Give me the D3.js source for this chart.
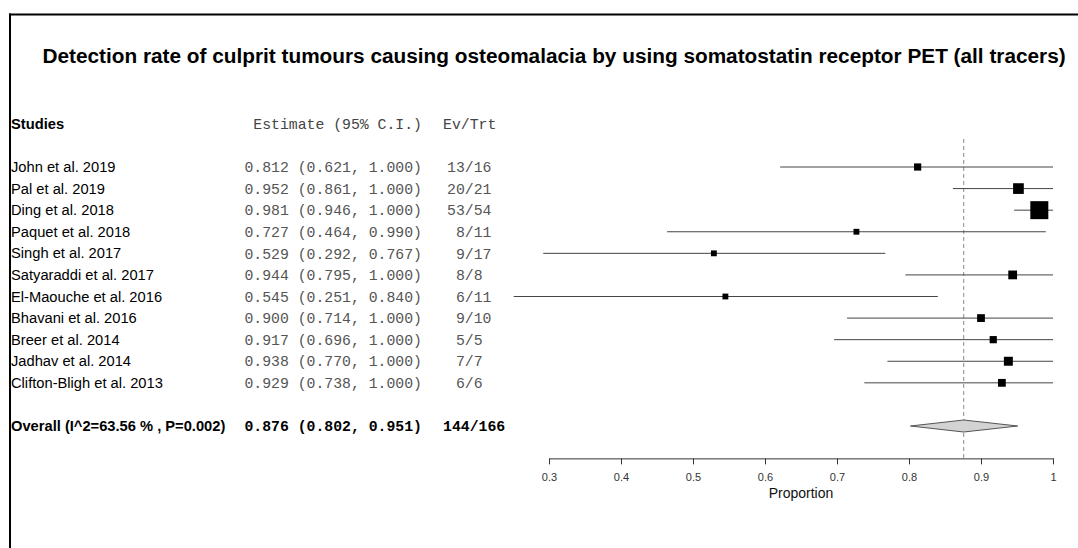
<!DOCTYPE html>
<html lang="en">
<head>
<meta charset="UTF-8">
<title>Forest plot - somatostatin receptor PET</title>
<script src="https://d3js.org/d3.v7.min.js"></script>
<style>
    body { margin: 0; padding: 0; background: #fff; }
    svg { display: block; }
    .sans { font-family: 'Liberation Sans', Arial, sans-serif; }
    .mono { font-family: 'Liberation Mono', 'Courier New', monospace; }
    .axis text { font-family: 'Liberation Sans', Arial, sans-serif; font-size: 11px; fill: #333; }
    .axis path, .axis line { stroke: #333; }
</style>
</head>
<body>
<script>
    const titleText = "Detection rate of culprit tumours causing osteomalacia by using somatostatin receptor PET (all tracers)";

    const studies = ["John et al. 2019", "Pal et al. 2019", "Ding et al. 2018", "Paquet et al. 2018",
        "Singh et al. 2017", "Satyaraddi et al. 2017", "El-Maouche et al. 2016", "Bhavani et al. 2016",
        "Breer et al. 2014", "Jadhav et al. 2014", "Clifton-Bligh et al. 2013"];
    const estimates = [0.812, 0.952, 0.981, 0.727, 0.529, 0.944, 0.545, 0.900, 0.917, 0.938, 0.929];
    const lower     = [0.621, 0.861, 0.946, 0.464, 0.292, 0.795, 0.251, 0.714, 0.696, 0.770, 0.738];
    const upper     = [1.000, 1.000, 1.000, 0.990, 0.767, 1.000, 0.840, 1.000, 1.000, 1.000, 1.000];
    const events    = [13, 20, 53, 8, 9, 8, 6, 9, 5, 7, 6];
    const totals    = [16, 21, 54, 11, 17, 8, 11, 10, 5, 7, 6];
    // relative study weights
    const weights   = [7.4, 11, 18.5, 6, 6, 9, 6, 8, 7.4, 9.2, 8];

    const overallLabel = "Overall (I^2=63.56 % , P=0.002)";
    const overall = { est: 0.876, lo: 0.802, hi: 0.951, ev: 144, n: 166 };

    const xTicks = [0.3, 0.4, 0.5, 0.6, 0.7, 0.8, 0.9, 1];

    const W = 1078, H = 548;
    const svg = d3.select("body").append("svg").attr("width", W).attr("height", H);

    const x = d3.scaleLinear().domain([0.3, 1]).range([549, 1053]);
    // rows: -2 = header, 0..10 = studies, 12 = overall
    const y = d3.scaleLinear().domain([0, 12]).range([167, 426]);
    const box = d3.scaleLinear().domain([0, 18.5]).range([0, 18]);
    const f3 = d3.format(".3f");

    // frame
    svg.append("line").attr("x1", 9).attr("x2", W).attr("y1", 14.5).attr("y2", 14.5)
        .attr("stroke", "#000").attr("stroke-width", 2);
    svg.append("line").attr("x1", 10).attr("x2", 10).attr("y1", 13.5).attr("y2", H)
        .attr("stroke", "#000").attr("stroke-width", 2);

    // title, fitted to its width
    const title = svg.append("text").attr("class", "sans")
        .attr("x", 42.5).attr("y", 63)
        .style("font-size", "20px").style("font-weight", "bold").attr("fill", "#000")
        .text(titleText);
    const tw = title.node().getComputedTextLength();
    title.style("font-size", (20 * 1024 / tw) + "px");

    // headers
    svg.append("text").attr("class", "sans").attr("x", 11).attr("y", y(-2)).attr("dy", "0.35em")
        .style("font-size", "14.7px").style("font-weight", "bold").text("Studies");
    svg.append("text").attr("class", "mono").attr("x", 422).attr("y", y(-2)).attr("dy", "0.35em")
        .attr("text-anchor", "end").style("font-size", "14.8px").attr("fill", "#444")
        .text("Estimate (95% C.I.)");
    svg.append("text").attr("class", "mono").attr("x", 443).attr("y", y(-2)).attr("dy", "0.35em")
        .style("font-size", "14.8px").attr("fill", "#444").text("Ev/Trt");

    // reference line at overall estimate
    svg.append("line")
        .attr("x1", x(overall.est)).attr("x2", x(overall.est))
        .attr("y1", y(-1.3)).attr("y2", y(13.5))
        .attr("stroke", "#888").attr("stroke-dasharray", "4,3").attr("stroke-width", 1);

    const rows = studies.map((s, i) => ({
        name: s, est: estimates[i], lo: lower[i], hi: upper[i],
        ev: events[i], n: totals[i], w: weights[i], i: i
    }));

    const g = svg.append("g");
    g.selectAll(".name").data(rows).enter().append("text")
        .attr("class", "sans name").attr("x", 11).attr("y", d => y(d.i)).attr("dy", "0.35em")
        .style("font-size", "14.7px").attr("fill", "#000").text(d => d.name);

    g.selectAll(".est").data(rows).enter().append("text")
        .attr("class", "mono est").attr("x", 422).attr("y", d => y(d.i)).attr("dy", "0.35em")
        .attr("text-anchor", "end").style("font-size", "14.8px").attr("fill", "#555")
        .text(d => `${f3(d.est)} (${f3(d.lo)}, ${f3(d.hi)})`);

    g.selectAll(".evt").data(rows).enter().append("text")
        .attr("class", "mono evt").attr("x", 447).attr("y", d => y(d.i)).attr("dy", "0.35em")
        .attr("xml:space", "preserve").style("white-space", "pre")
        .style("font-size", "14.8px").attr("fill", "#555")
        .text(d => `${String(d.ev).padStart(2, " ")}/${d.n}`);

    g.selectAll(".ci").data(rows).enter().append("line")
        .attr("class", "ci")
        .attr("x1", d => x(d.lo)).attr("x2", d => x(d.hi))
        .attr("y1", d => y(d.i)).attr("y2", d => y(d.i))
        .attr("stroke", "#444").attr("stroke-width", 1);

    g.selectAll(".box").data(rows).enter().append("rect")
        .attr("class", "box")
        .attr("x", d => x(d.est) - box(d.w) / 2).attr("y", d => y(d.i) - box(d.w) / 2)
        .attr("width", d => box(d.w)).attr("height", d => box(d.w))
        .attr("fill", "#000");

    // overall row
    svg.append("text").attr("class", "sans").attr("x", 11).attr("y", y(12)).attr("dy", "0.35em")
        .style("font-size", "14.7px").style("font-weight", "bold").text(overallLabel);
    svg.append("text").attr("class", "mono").attr("x", 422).attr("y", y(12)).attr("dy", "0.35em")
        .attr("text-anchor", "end").style("font-size", "14.8px").style("font-weight", "bold")
        .text(`${f3(overall.est)} (${f3(overall.lo)}, ${f3(overall.hi)})`);
    svg.append("text").attr("class", "mono").attr("x", 443).attr("y", y(12)).attr("dy", "0.35em")
        .style("font-size", "14.8px").style("font-weight", "bold")
        .text(`${overall.ev}/${overall.n}`);

    const yo = y(12), hh = 6;
    svg.append("path")
        .attr("d", `M${x(overall.lo)},${yo} L${x(overall.est)},${yo - hh} L${x(overall.hi)},${yo} L${x(overall.est)},${yo + hh} Z`)
        .attr("fill", "#d3d3d3").attr("stroke", "#555").attr("stroke-width", 1);

    // x axis
    const axisY = y(13.5);
    svg.append("g").attr("class", "axis")
        .attr("transform", `translate(0,${axisY})`)
        .call(d3.axisBottom(x).tickValues(xTicks).tickSize(6).tickSizeOuter(0).tickPadding(9)
            .tickFormat(d => d === 1 ? "1" : d3.format(".1f")(d)));

    svg.append("text").attr("class", "sans")
        .attr("x", (x(0.3) + x(1)) / 2).attr("y", axisY + 35).attr("dy", "0.35em")
        .attr("text-anchor", "middle").style("font-size", "14px").attr("fill", "#111")
        .text("Proportion");
</script>
</body>
</html>
